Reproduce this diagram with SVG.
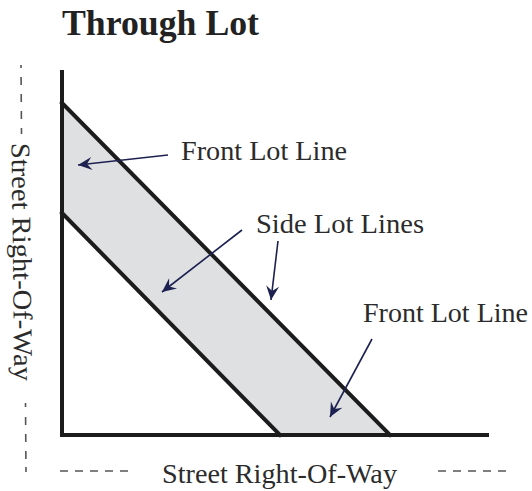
<svg xmlns="http://www.w3.org/2000/svg" width="532" height="491" viewBox="0 0 532 491">
  <style>
    .title { font-family: "Liberation Serif", "Times New Roman", serif; font-weight: bold; font-size: 36px; fill: #222; }
    .lbl { font-family: "Liberation Serif", "Times New Roman", serif; font-size: 27px; fill: #2b2b2b; }
    .bound { stroke: #1c1c1c; stroke-width: 4; fill: none; stroke-linecap: square; }
    .dash { stroke: #555; stroke-width: 1.6; fill: none; }
    .arrow { stroke: #1d2150; stroke-width: 1.6; fill: none; marker-end: url(#ah); }
  </style>
  <defs>
    <marker id="ah" markerUnits="userSpaceOnUse" markerWidth="20" markerHeight="20" viewBox="-16 -10 20 20" refX="0" refY="0" orient="auto">
      <path d="M0,0 L-14,-6.5 L-9,0 L-14,6.5 Z" fill="#1d2150"/>
    </marker>
  </defs>
  <rect width="532" height="491" fill="#fff"/>

  <g id="title">
    <text class="title" x="62" y="35" textLength="197" lengthAdjust="spacingAndGlyphs">Through Lot</text>
  </g>

  <g id="lot">
    <polygon points="62,103 390,435 280,435 62,213" fill="#dfe0e2"/>
    <line class="bound" x1="62" y1="103" x2="390" y2="435"/>
    <line class="bound" x1="62" y1="213" x2="280" y2="435"/>
  </g>

  <g id="streets">
    <polyline class="bound" points="62,72 62,435 487,435"/>
  </g>

  <g id="label-front-1">
    <text class="lbl" x="181" y="160" textLength="166" lengthAdjust="spacingAndGlyphs">Front Lot Line</text>
  </g>
  <g id="label-side">
    <text class="lbl" x="256" y="233" textLength="168" lengthAdjust="spacingAndGlyphs">Side Lot Lines</text>
  </g>
  <g id="label-front-2">
    <text class="lbl" x="363" y="322" textLength="165" lengthAdjust="spacingAndGlyphs">Front Lot Line</text>
  </g>

  <g id="label-street-bottom">
    <line class="dash" x1="60" y1="471" x2="130" y2="471" stroke-dasharray="8 7"/>
    <text class="lbl" x="162" y="483" textLength="235" lengthAdjust="spacingAndGlyphs">Street Right-Of-Way</text>
    <line class="dash" x1="438" y1="471" x2="510" y2="471" stroke-dasharray="8 7"/>
  </g>

  <g id="label-street-left">
    <line class="dash" x1="21" y1="65" x2="21.5" y2="134" stroke-dasharray="8 9" stroke-dashoffset="5"/>
    <text class="lbl" transform="translate(13,262) rotate(89.3)" x="0" y="0" text-anchor="middle" textLength="238" lengthAdjust="spacingAndGlyphs">Street Right-Of-Way</text>
    <line class="dash" x1="25.5" y1="403" x2="26" y2="473" stroke-dasharray="4 10 8 9 8 9 8 8 5 100"/>
  </g>

  <g id="connectors">
    <line class="arrow" x1="168" y1="155" x2="78" y2="165"/>
    <line class="arrow" x1="242" y1="230" x2="162" y2="292"/>
    <line class="arrow" x1="278" y1="241" x2="271" y2="300"/>
    <line class="arrow" x1="372" y1="339" x2="330" y2="417"/>
  </g>
</svg>
